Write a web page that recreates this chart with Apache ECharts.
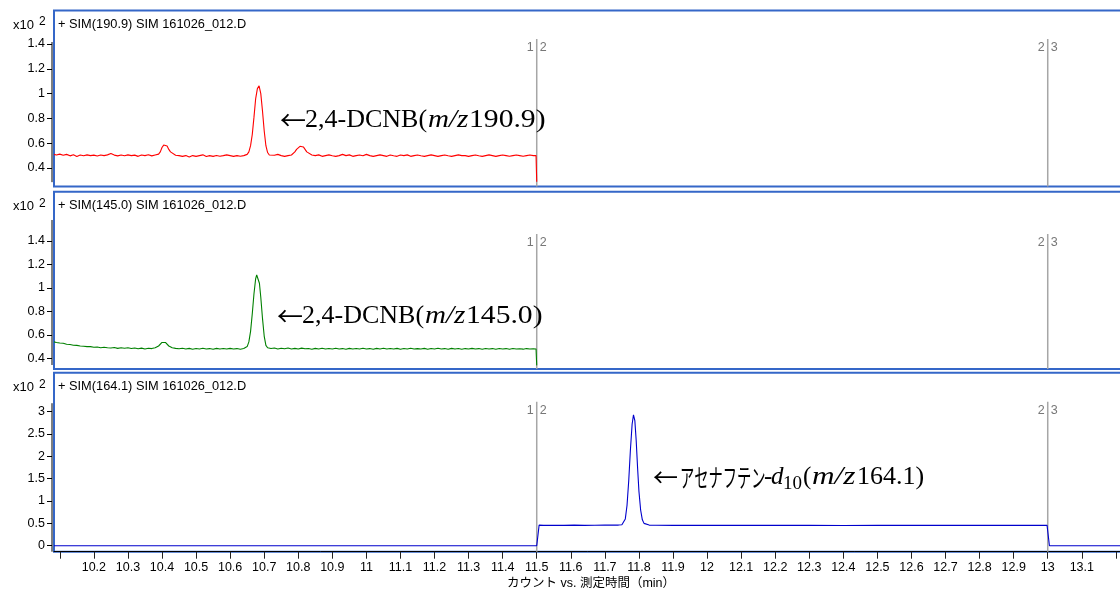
<!DOCTYPE html>
<html>
<head>
<meta charset="utf-8">
<script src="https://cdn.jsdelivr.net/npm/echarts@6/dist/echarts.min.js"></script>
<style>
  html, body { margin: 0; padding: 0; background: #fff; }
  #chart { width: 1120px; height: 589px; }
</style>
</head>
<body>
<div id="chart"></div>
<script>
// SIM chromatograms, sample 161026_012.D: three ion traces on a shared time axis (min)
const panelTitles = [
  '+ SIM(190.9) SIM 161026_012.D',
  '+ SIM(145.0) SIM 161026_012.D',
  '+ SIM(164.1) SIM 161026_012.D'
];

// m/z 190.9 trace, counts x10^2, [time, value]
const trace1909 = [
  [10.083,0.51],[10.09,0.505],[10.10,0.512],[10.11,0.503],[10.12,0.51],[10.13,0.498],[10.14,0.507],[10.15,0.493],[10.16,0.505],[10.17,0.499],
  [10.18,0.506],[10.19,0.50],[10.20,0.504],[10.21,0.497],[10.22,0.505],[10.23,0.50],[10.24,0.506],[10.25,0.517],[10.26,0.504],[10.27,0.498],
  [10.28,0.505],[10.29,0.499],[10.30,0.506],[10.31,0.50],[10.32,0.504],[10.33,0.494],[10.34,0.505],[10.35,0.50],[10.36,0.507],[10.37,0.498],
  [10.38,0.505],[10.39,0.512],[10.395,0.53],[10.40,0.565],[10.405,0.585],[10.41,0.597],[10.415,0.577],[10.42,0.55],[10.425,0.53],[10.43,0.515],
  [10.44,0.503],[10.45,0.50],[10.46,0.494],[10.47,0.50],[10.48,0.488],[10.49,0.50],[10.50,0.494],[10.51,0.50],[10.52,0.506],[10.53,0.493],
  [10.54,0.50],[10.55,0.494],[10.56,0.501],[10.57,0.495],[10.58,0.50],[10.59,0.506],[10.60,0.50],[10.61,0.494],[10.62,0.50],[10.63,0.495],
  [10.64,0.50],[10.645,0.505],[10.65,0.51],[10.655,0.53],[10.66,0.58],[10.665,0.67],[10.67,0.81],[10.675,0.96],[10.68,1.04],[10.685,1.062],
  [10.69,1.0],[10.695,0.86],[10.70,0.70],[10.705,0.58],[10.71,0.525],[10.715,0.505],[10.72,0.51],[10.73,0.503],[10.74,0.51],[10.75,0.50],
  [10.76,0.494],[10.77,0.50],[10.78,0.505],[10.785,0.515],[10.79,0.53],[10.795,0.55],[10.80,0.565],[10.805,0.575],[10.81,0.58],[10.815,0.57],
  [10.82,0.55],[10.825,0.53],[10.83,0.515],[10.84,0.505],[10.85,0.50],[10.86,0.506],[10.87,0.494],[10.88,0.50],[10.89,0.506],[10.90,0.499],
  [10.91,0.494],[10.92,0.50],[10.93,0.51],[10.94,0.50],[10.95,0.506],[10.96,0.494],[10.97,0.50],[10.98,0.505],[10.99,0.499],[11.00,0.51],
  [11.01,0.50],[11.02,0.494],[11.03,0.50],[11.04,0.506],[11.05,0.50],[11.06,0.494],[11.07,0.505],[11.08,0.499],[11.09,0.494],[11.10,0.505],
  [11.11,0.50],[11.12,0.506],[11.13,0.494],[11.14,0.50],[11.15,0.505],[11.16,0.499],[11.17,0.494],[11.18,0.50],[11.19,0.506],[11.20,0.50],
  [11.21,0.494],[11.22,0.50],[11.23,0.505],[11.24,0.499],[11.25,0.494],[11.26,0.50],[11.27,0.506],[11.28,0.50],[11.29,0.50],[11.30,0.494],
  [11.31,0.50],[11.32,0.505],[11.33,0.499],[11.34,0.494],[11.35,0.50],[11.36,0.506],[11.37,0.50],[11.38,0.494],[11.39,0.50],[11.40,0.505],
  [11.41,0.50],[11.42,0.495],[11.43,0.50],[11.44,0.505],[11.45,0.50],[11.46,0.495],[11.47,0.50],[11.48,0.505],[11.49,0.50],[11.498,0.50],
  [11.50,0.29]
];

// m/z 145.0 trace, counts x10^2, [time, value]
const trace1450 = [
  [10.083,0.54],[10.09,0.535],[10.10,0.53],[10.11,0.528],[10.12,0.52],[10.13,0.518],[10.14,0.512],[10.15,0.51],[10.16,0.505],[10.17,0.503],
  [10.18,0.50],[10.19,0.50],[10.20,0.495],[10.21,0.497],[10.22,0.49],[10.23,0.495],[10.24,0.49],[10.25,0.488],[10.26,0.492],[10.27,0.485],
  [10.28,0.49],[10.29,0.486],[10.30,0.49],[10.31,0.484],[10.32,0.488],[10.33,0.482],[10.34,0.487],[10.35,0.48],[10.36,0.486],[10.37,0.483],
  [10.38,0.49],[10.385,0.495],[10.39,0.505],[10.395,0.52],[10.40,0.535],[10.405,0.542],[10.41,0.535],[10.415,0.52],[10.42,0.505],[10.43,0.49],
  [10.44,0.485],[10.45,0.482],[10.46,0.486],[10.47,0.48],[10.48,0.485],[10.49,0.478],[10.50,0.484],[10.51,0.48],[10.52,0.486],[10.53,0.48],
  [10.54,0.483],[10.55,0.478],[10.56,0.485],[10.57,0.48],[10.58,0.484],[10.59,0.479],[10.60,0.485],[10.61,0.48],[10.62,0.483],[10.63,0.478],
  [10.64,0.484],[10.645,0.488],[10.65,0.50],[10.655,0.54],[10.66,0.63],[10.665,0.78],[10.67,0.95],[10.675,1.08],[10.678,1.11],[10.682,1.10],
  [10.686,1.04],[10.69,0.92],[10.695,0.74],[10.70,0.59],[10.705,0.51],[10.71,0.49],[10.72,0.484],[10.73,0.488],[10.74,0.48],[10.75,0.486],
  [10.76,0.482],[10.77,0.488],[10.78,0.48],[10.79,0.485],[10.80,0.48],[10.81,0.487],[10.82,0.481],[10.83,0.484],[10.84,0.478],[10.85,0.485],
  [10.86,0.48],[10.87,0.486],[10.88,0.479],[10.89,0.484],[10.90,0.48],[10.91,0.486],[10.92,0.48],[10.93,0.483],[10.94,0.478],[10.95,0.485],
  [10.96,0.48],[10.97,0.484],[10.98,0.479],[10.99,0.486],[11.00,0.48],[11.01,0.483],[11.02,0.478],[11.03,0.485],[11.04,0.48],[11.05,0.486],
  [11.06,0.479],[11.07,0.484],[11.08,0.48],[11.09,0.485],[11.10,0.478],[11.11,0.484],[11.12,0.48],[11.13,0.486],[11.14,0.479],[11.15,0.483],
  [11.16,0.48],[11.17,0.485],[11.18,0.478],[11.19,0.484],[11.20,0.48],[11.21,0.486],[11.22,0.479],[11.23,0.483],[11.24,0.478],[11.25,0.485],
  [11.26,0.48],[11.27,0.484],[11.28,0.478],[11.29,0.483],[11.30,0.479],[11.31,0.485],[11.32,0.48],[11.33,0.483],[11.34,0.477],[11.35,0.484],
  [11.36,0.479],[11.37,0.483],[11.38,0.478],[11.39,0.484],[11.40,0.48],[11.41,0.483],[11.42,0.477],[11.43,0.484],[11.44,0.479],[11.45,0.482],
  [11.46,0.478],[11.47,0.483],[11.48,0.479],[11.49,0.482],[11.498,0.48],[11.50,0.34]
];

// m/z 164.1 trace, counts x10^2, [time, value]
const trace1641 = [
  [10.083,0],[11.50,0],[11.507,0.46],[11.52,0.455],[11.55,0.458],[11.58,0.455],[11.61,0.46],[11.64,0.455],[11.67,0.458],[11.70,0.462],
  [11.72,0.46],[11.74,0.462],[11.75,0.47],[11.755,0.5],[11.76,0.6],[11.765,0.9],[11.77,1.45],[11.775,2.15],[11.78,2.72],[11.784,2.93],
  [11.788,2.8],[11.792,2.35],[11.796,1.75],[11.80,1.22],[11.805,0.8],[11.81,0.58],[11.815,0.5],[11.82,0.47],[11.83,0.462],[11.85,0.458],
  [11.90,0.455],[11.95,0.458],[12.00,0.455],[12.05,0.455],[12.10,0.458],[12.20,0.455],[12.30,0.455],[12.40,0.452],[12.50,0.455],[12.60,0.458],
  [12.70,0.455],[12.80,0.455],[12.90,0.455],[12.998,0.455],[13.005,0],[13.218,0]
];

// acquisition segment boundaries (min) and their segment numbers
const segmentTimes = [11.5, 13.0];
const segmentLabels = [['1', '2'], ['2', '3']];

// tick values
const yTicks = [
  [0.4, 0.6, 0.8, 1.0, 1.2, 1.4],
  [0.4, 0.6, 0.8, 1.0, 1.2, 1.4],
  [0, 0.5, 1.0, 1.5, 2.0, 2.5, 3.0]
];
const xTickValues = [10.1,10.2,10.3,10.4,10.5,10.6,10.7,10.8,10.9,11.0,11.1,11.2,11.3,11.4,11.5,11.6,11.7,11.8,11.9,
  12.0,12.1,12.2,12.3,12.4,12.5,12.6,12.7,12.8,12.9,13.0,13.1,13.2];
const xLabelValues = [10.2,10.3,10.4,10.5,10.6,10.7,10.8,10.9,11.0,11.1,11.2,11.3,11.4,11.5,11.6,11.7,11.8,11.9,
  12.0,12.1,12.2,12.3,12.4,12.5,12.6,12.7,12.8,12.9,13.0,13.1];

const xName = 'カウント vs. 測定時間（min）';
const traceColors = ['#ff0000', '#008000', '#0000cc'];
const traces = [trace1909, trace1450, trace1641];

// layout
const X_MIN = 10.083, X_MAX = 13.218;
const panels = [
  { top: 10.5,  height: 176,   yMin: 0.251,  yMax: 1.670, divTop: 1.44, axisTop: 1.416, axisBottom: 0.286 },
  { top: 191.7, height: 177.3, yMin: 0.309,  yMax: 1.820, divTop: 1.46, axisTop: 1.579, axisBottom: 0.343 },
  { top: 372.7, height: 179,   yMin: -0.134, yMax: 3.873, divTop: 3.22, axisTop: 3.19,  axisBottom: -0.134 }
];
const SANS = '"Liberation Sans", Arial, "Noto Sans CJK JP", sans-serif';
const SERIF = '"Liberation Serif", "Times New Roman", serif';
const CJK = '"Noto Sans CJK JP", sans-serif';

const fmtNum = v => String(parseFloat(Number(v).toFixed(2)));

const chart = echarts.init(document.getElementById('chart'), null, { renderer: 'canvas' });

const grids = panels.map(p => ({
  left: 54, right: -2, top: p.top, height: p.height,
  containLabel: false, outerBoundsMode: 'none',
  show: true, borderColor: '#3567c8', borderWidth: 2, backgroundColor: '#fff'
}));

const xAxes = panels.map((p, i) => {
  const base = { type: 'value', gridIndex: i, min: X_MIN, max: X_MAX, splitLine: { show: false } };
  if (i < 2) return Object.assign(base, { show: false });
  return Object.assign(base, {
    axisLine: { show: true, onZero: false, lineStyle: { color: '#000', width: 1 } },
    axisTick: { show: true, length: 7, customValues: xTickValues, lineStyle: { color: '#222' } },
    axisLabel: { show: true, customValues: xLabelValues, formatter: fmtNum, fontSize: 12.5, color: '#000',
                 fontFamily: SANS, margin: 10 },
    name: xName, nameLocation: 'middle', nameGap: 26,
    nameTextStyle: { fontSize: 12.5, color: '#000', fontFamily: SANS, padding: [0, 0, 0, 6] }
  });
});

const yAxes = panels.map((p, i) => ({
  type: 'value', gridIndex: i, min: p.yMin, max: p.yMax, offset: 2,
  splitLine: { show: false },
  axisLine: { show: false },
  axisTick: { show: true, length: 5, customValues: yTicks[i], lineStyle: { color: '#000' } },
  axisLabel: { show: true, customValues: yTicks[i], formatter: fmtNum, fontSize: 12.5, color: '#000',
               fontFamily: SANS, margin: 7 }
}));

const series = [];
traces.forEach((data, i) => {
  series.push({
    type: 'line', xAxisIndex: i, yAxisIndex: i, data: data,
    showSymbol: false, symbol: 'none', smooth: false,
    lineStyle: { color: traceColors[i], width: 1.1 }, z: 3, silent: true
  });
});
panels.forEach((p, i) => {
  segmentTimes.forEach((t, k) => {
    series.push({
      type: 'line', xAxisIndex: i, yAxisIndex: i, silent: true, z: 2,
      symbol: 'circle', symbolSize: 0, showSymbol: true,
      lineStyle: { color: '#a6a6a6', width: 1.5 },
      data: [
        { value: [t, p.divTop],
          label: { show: true, position: 'bottom', distance: 2,
                   formatter: '{a|' + segmentLabels[k][0] + '}{b|' + segmentLabels[k][1] + '}',
                   rich: {
                     a: { fontSize: 12.5, color: '#777', fontFamily: SANS, padding: [0, 3, 0, 0] },
                     b: { fontSize: 12.5, color: '#777', fontFamily: SANS, padding: [0, 0, 0, 3] }
                   } } },
        { value: [t, p.yMin] }
      ]
    });
  });
});

chart.setOption({
  animation: false,
  backgroundColor: '#fff',
  grid: grids, xAxis: xAxes, yAxis: yAxes, series: series
});

// decorations: titles, scale factor, partial y-axis lines, compound annotations
const graphics = [];
panels.forEach((p, i) => {
  graphics.push({ type: 'text', x: 58, y: p.top + 13.5, z: 10,
    style: { text: panelTitles[i], font: '12.8px ' + SANS, fill: '#000', verticalAlign: 'middle' } });
  graphics.push({ type: 'text', x: 13, y: p.top + 15, z: 10,
    style: { text: 'x10', font: '13px ' + SANS, fill: '#000', verticalAlign: 'middle' } });
  graphics.push({ type: 'text', x: 39, y: p.top + 11.5, z: 10,
    style: { text: '2', font: '12px ' + SANS, fill: '#000', verticalAlign: 'middle' } });
  const xPix = chart.convertToPixel({ xAxisIndex: i }, X_MIN) - 2;
  const y1 = chart.convertToPixel({ yAxisIndex: i }, p.axisTop);
  const y2 = chart.convertToPixel({ yAxisIndex: i }, p.axisBottom);
  graphics.push({ type: 'line', z: 10, shape: { x1: xPix, y1: y1, x2: xPix, y2: y2 },
    style: { stroke: '#000', lineWidth: 1 } });
});

// one annotation piece: text at (x, y), optional italic and horizontal stretch
function piece(text, x, y, size, opts) {
  opts = opts || {};
  const family = opts.family || SERIF;
  return { type: 'text', x: x, y: y, z: 10, scaleX: opts.sx || 1,
    style: { text: text, font: (opts.italic ? 'italic ' : '') + size + 'px ' + family,
             fill: '#000', verticalAlign: 'middle' } };
}

// 2,4-DCNB labels
[[280, 120, '190.9)'], [277, 316, '145.0)']].forEach(([x0, y0, tail]) => {
  graphics.push(piece('←', x0, y0, 26, { family: CJK }));
  graphics.push(piece('2,4-DCNB(', x0 + 25, y0, 26));
  graphics.push(piece('m/z', x0 + 148, y0, 26, { italic: true, sx: 1.12 }));
  graphics.push(piece(tail, x0 + 189, y0, 26, { sx: 1.14 }));
});

// acenaphthene-d10 label
graphics.push(piece('←', 653, 477, 25, { family: CJK }));
graphics.push(piece('アセナフテン', 680, 477, 25, { family: CJK, sx: 0.57 }));
graphics.push(piece('-', 764, 477, 25));
graphics.push(piece('d', 771, 477, 25, { italic: true }));
graphics.push(piece('10', 783, 484, 19));
graphics.push(piece('(', 803, 477, 25));
graphics.push(piece('m/z', 812, 477, 25, { italic: true, sx: 1.25 }));
graphics.push(piece('164.1)', 857, 477, 25, { sx: 1.04 }));

chart.setOption({ graphic: graphics });
</script>
</body>
</html>
